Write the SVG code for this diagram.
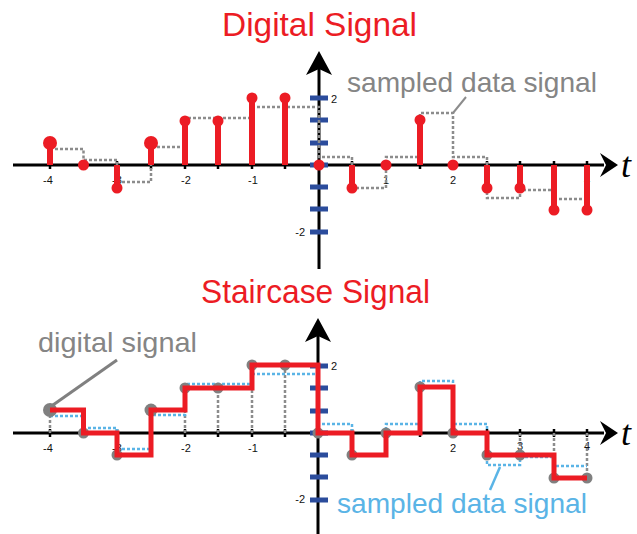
<svg xmlns="http://www.w3.org/2000/svg" width="637" height="534" viewBox="0 0 637 534">
  <style>
    .title { font-family: "Liberation Sans", Arial, sans-serif; font-size: 33px; fill: #ec1c24; }
    .note { font-family: "Liberation Sans", Arial, sans-serif; font-size: 28px; }
    .tick-label { font-family: "Liberation Sans", Arial, sans-serif; font-size: 11px; fill: #111; }
    .axis { stroke: #000; stroke-width: 3; fill: none; }
    .tick { stroke: #000; stroke-width: 2.5; }
    .ytick { fill: #2b4c9c; }
    .tvar { font-family: "Liberation Serif", "Times New Roman", serif; font-style: italic; font-size: 36px; fill: #000; }
    .gray-dot-line { stroke: #8c8c8c; stroke-width: 2.5; stroke-dasharray: 3 2; fill: none; }
    .blue-dot-line { stroke: #5ab4e6; stroke-width: 2.5; stroke-dasharray: 3 2; fill: none; }
    .stem { stroke: #ec1c24; stroke-width: 6; }
    .sample { fill: #ec1c24; }
    .held { fill: #808080; }
    .stair { stroke: #ec1c24; stroke-width: 5; fill: none; stroke-linejoin: miter; }
  </style>
  <defs>
    <!-- half-unit tick marks on the time axis -->
    <g id="xticks">
      <line class="tick" x1="50" y1="161" x2="50" y2="169"/>
      <line class="tick" x1="83.5" y1="161" x2="83.5" y2="169"/>
      <line class="tick" x1="117" y1="161" x2="117" y2="169"/>
      <line class="tick" x1="151" y1="161" x2="151" y2="169"/>
      <line class="tick" x1="185" y1="161" x2="185" y2="169"/>
      <line class="tick" x1="218" y1="161" x2="218" y2="169"/>
      <line class="tick" x1="252" y1="161" x2="252" y2="169"/>
      <line class="tick" x1="285" y1="161" x2="285" y2="169"/>
      <line class="tick" x1="352" y1="161" x2="352" y2="169"/>
      <line class="tick" x1="386" y1="161" x2="386" y2="169"/>
      <line class="tick" x1="420" y1="161" x2="420" y2="169"/>
      <line class="tick" x1="453" y1="161" x2="453" y2="169"/>
      <line class="tick" x1="487" y1="161" x2="487" y2="169"/>
      <line class="tick" x1="520" y1="161" x2="520" y2="169"/>
      <line class="tick" x1="554" y1="161" x2="554" y2="169"/>
      <line class="tick" x1="587" y1="161" x2="587" y2="169"/>
    </g>
    <!-- blue amplitude ticks on the vertical axis, centred on the origin -->
    <g id="yticks">
      <rect class="ytick" x="310" y="-69.5" width="18" height="5"/>
      <rect class="ytick" x="310" y="-47.5" width="18" height="5"/>
      <rect class="ytick" x="310" y="-24.5" width="18" height="5"/>
      <rect class="ytick" x="310" y="-2.5" width="18" height="5"/>
      <rect class="ytick" x="310" y="19.5" width="18" height="5"/>
      <rect class="ytick" x="310" y="41.5" width="18" height="5"/>
      <rect class="ytick" x="310" y="64.5" width="18" height="5"/>
    </g>
  </defs>

  <!-- ===== Digital signal ===== -->
  <g id="digital-plot">
    <text class="title" x="222" y="36" textLength="195" lengthAdjust="spacingAndGlyphs">Digital Signal</text>

    <g id="digital-axes">
      <line class="axis" x1="13" y1="165" x2="604" y2="165"/>
      <polygon points="618,165 600,153 606,165 600,177" fill="#000"/>
      <text class="tvar" x="621" y="177">t</text>
      <line class="axis" x1="319" y1="66" x2="319" y2="269"/>
      <polygon points="319,51 332,75 319,69 306,75" fill="#000"/>
      <use href="#xticks"/>
      <use href="#yticks" transform="translate(0,165)"/>
      <text class="tick-label" x="48" y="184" text-anchor="middle">-4</text>
      <text class="tick-label" x="117" y="184" text-anchor="middle">-3</text>
      <text class="tick-label" x="186" y="184" text-anchor="middle">-2</text>
      <text class="tick-label" x="253" y="184" text-anchor="middle">-1</text>
      <text class="tick-label" x="386" y="184" text-anchor="middle">1</text>
      <text class="tick-label" x="453" y="184" text-anchor="middle">2</text>
      <text class="tick-label" x="520" y="184" text-anchor="middle">3</text>
      <text class="tick-label" x="587" y="184" text-anchor="middle">4</text>
      <text class="tick-label" x="331" y="103">2</text>
      <text class="tick-label" x="305" y="236" text-anchor="end">-2</text>
    </g>

    <g id="digital-sampled-data">
      <path class="gray-dot-line" d="M50,149 H83.5 V160 H117 V182 H151 V147 H185 V118 H252 V107 H319 V157 H352 V188 H386 V157 H420 V113 H453 V157 H487 V198 H520 V190 H554 V199 H587"/>
      <line x1="453" y1="113" x2="466" y2="97" stroke="#8c8c8c" stroke-width="2"/>
      <text class="note" x="347" y="92" fill="#858585" textLength="250" lengthAdjust="spacingAndGlyphs">sampled data signal</text>
    </g>

    <g id="digital-stems">
      <line class="stem" x1="50" y1="165" x2="50" y2="143"/>
      <line class="stem" x1="117" y1="165" x2="117" y2="188"/>
      <line class="stem" x1="151" y1="165" x2="151" y2="143"/>
      <line class="stem" x1="185" y1="165" x2="185" y2="121"/>
      <line class="stem" x1="218" y1="165" x2="218" y2="121"/>
      <line class="stem" x1="252" y1="165" x2="252" y2="98"/>
      <line class="stem" x1="285" y1="165" x2="285" y2="98"/>
      <line class="stem" x1="352" y1="165" x2="352" y2="188"/>
      <line class="stem" x1="420" y1="165" x2="420" y2="120"/>
      <line class="stem" x1="487" y1="165" x2="487" y2="188"/>
      <line class="stem" x1="520" y1="165" x2="520" y2="188"/>
      <line class="stem" x1="554" y1="165" x2="554" y2="210"/>
      <line class="stem" x1="587" y1="165" x2="587" y2="210"/>
      <circle class="sample" cx="50" cy="143" r="7"/>
      <circle class="sample" cx="83.5" cy="165" r="5.5"/>
      <circle class="sample" cx="117" cy="188" r="5.5"/>
      <circle class="sample" cx="151" cy="143" r="7"/>
      <circle class="sample" cx="185" cy="121" r="5.5"/>
      <circle class="sample" cx="218" cy="121" r="5.5"/>
      <circle class="sample" cx="252" cy="98" r="5.5"/>
      <circle class="sample" cx="285" cy="98" r="5.5"/>
      <circle class="sample" cx="319" cy="165" r="5.5"/>
      <circle class="sample" cx="352" cy="188" r="5.5"/>
      <circle class="sample" cx="386" cy="165" r="5.5"/>
      <circle class="sample" cx="420" cy="120" r="5.5"/>
      <circle class="sample" cx="453" cy="165" r="5.5"/>
      <circle class="sample" cx="487" cy="188" r="5.5"/>
      <circle class="sample" cx="520" cy="188" r="5.5"/>
      <circle class="sample" cx="554" cy="210" r="5.5"/>
      <circle class="sample" cx="587" cy="210" r="5.5"/>
    </g>
  </g>

  <!-- ===== Staircase signal ===== -->
  <g id="staircase-plot">
    <text class="title" x="201" y="303" textLength="229" lengthAdjust="spacingAndGlyphs">Staircase Signal</text>

    <g id="staircase-axes">
      <line class="axis" x1="13" y1="433" x2="604" y2="433"/>
      <polygon points="618,433 600,421 606,433 600,445" fill="#000"/>
      <text class="tvar" x="621" y="445">t</text>
      <line class="axis" x1="318" y1="334" x2="318" y2="534"/>
      <polygon points="318,318 331,342 318,336 305,342" fill="#000"/>
      <use href="#xticks" transform="translate(0,268)"/>
      <use href="#yticks" transform="translate(0,433)"/>
      <text class="tick-label" x="48" y="452" text-anchor="middle">-4</text>
      <text class="tick-label" x="117" y="452" text-anchor="middle">-3</text>
      <text class="tick-label" x="186" y="452" text-anchor="middle">-2</text>
      <text class="tick-label" x="253" y="452" text-anchor="middle">-1</text>
      <text class="tick-label" x="453" y="452" text-anchor="middle">2</text>
      <text class="tick-label" x="520" y="450" text-anchor="middle">3</text>
      <text class="tick-label" x="587" y="450" text-anchor="middle">4</text>
      <text class="tick-label" x="331" y="370">2</text>
      <text class="tick-label" x="305" y="503" text-anchor="end">-2</text>
    </g>

    <g id="staircase-drops">
      <path class="gray-dot-line" d="M50,433 V410 M117,433 V455 M151,433 V410 M185,433 V388 M218,433 V388 M252,433 V365 M285,433 V365 M352,433 V455 M420,433 V387 M487,433 V455 M520,433 V455 M554,433 V478 M587,433 V478"/>
    </g>

    <g id="staircase-sampled-data">
      <path class="blue-dot-line" d="M50,416 H83.5 V428 H117 V449 H151 V415 H185 V384 H252 V374 H318 V424 H352 V455 H386 V424 H420 V381 H453 V424 H487 V465 H520 V457 H554 V466 H587"/>
    </g>

    <g id="staircase-samples">
      <circle class="held" cx="50" cy="410" r="7"/>
      <circle class="held" cx="83.5" cy="433" r="5.5"/>
      <circle class="held" cx="117" cy="455" r="5.5"/>
      <circle class="held" cx="151" cy="410" r="6.5"/>
      <circle class="held" cx="185" cy="388" r="5.5"/>
      <circle class="held" cx="218" cy="388" r="5.5"/>
      <circle class="held" cx="252" cy="365" r="5.5"/>
      <circle class="held" cx="285" cy="365" r="5.5"/>
      <circle class="held" cx="318" cy="433" r="5.5"/>
      <circle class="held" cx="352" cy="455" r="5.5"/>
      <circle class="held" cx="386" cy="433" r="5.5"/>
      <circle class="held" cx="420" cy="387" r="5.5"/>
      <circle class="held" cx="453" cy="433" r="5.5"/>
      <circle class="held" cx="487" cy="455" r="5.5"/>
      <circle class="held" cx="520" cy="455" r="5.5"/>
      <circle class="held" cx="554" cy="478" r="5.5"/>
      <circle class="held" cx="587" cy="478" r="5.5"/>
    </g>

    <path id="staircase-line" class="stair" d="M50,410 H83.5 V433 H117 V455 H151 V410 H185 V388 H252 V365 H318 V433 H352 V455 H386 V433 H420 V387 H453 V433 H487 V455 H554 V478 H587"/>

    <g id="staircase-labels">
      <line x1="117" y1="360" x2="53" y2="405" stroke="#808080" stroke-width="3"/>
      <text class="note" x="38" y="352" fill="#858585" textLength="159" lengthAdjust="spacingAndGlyphs">digital signal</text>
      <line x1="500" y1="467" x2="490" y2="490" stroke="#5ab4e6" stroke-width="2.5"/>
      <text class="note" x="337" y="513" fill="#5ab4e6" textLength="250" lengthAdjust="spacingAndGlyphs">sampled data signal</text>
    </g>
  </g>
</svg>
